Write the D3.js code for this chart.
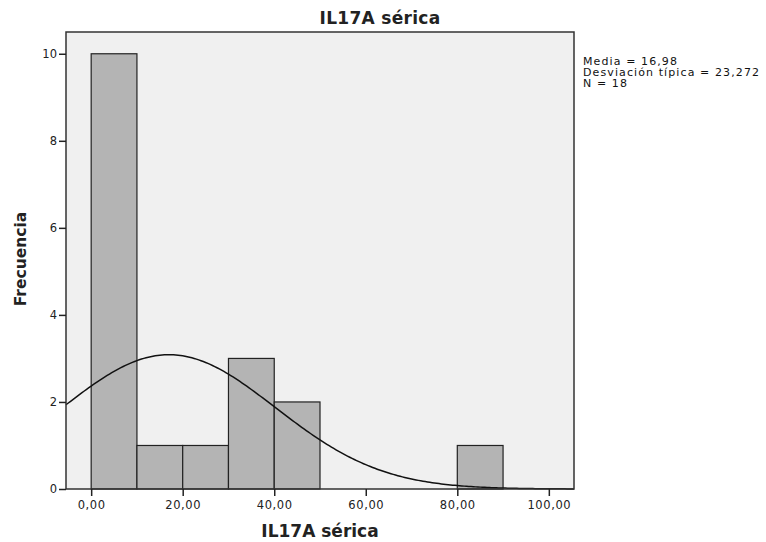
<!DOCTYPE html>
<html>
<head>
<meta charset="utf-8">
<script src="https://cdn.jsdelivr.net/npm/d3@7"></script>
<style>
body { margin:0; background:#fff; }
text { font-family: "DejaVu Sans", Verdana, sans-serif; }
</style>
</head>
<body>
<script>
// bins (lower edge) and counts
var binStart = [0, 10, 20, 30, 40, 50, 60, 70, 80];
var binCount = [10, 1, 1, 3, 2, 0, 0, 0, 1];
var binWidth = 10;
var xTicks = [0, 20, 40, 60, 80, 100];
var yTicks = [0, 2, 4, 6, 8, 10];
var media = 16.98, sd = 23.272, n = 18;
var statLines = ["Media = 16,98", "Desviación típica = 23,272", "N = 18"];

function init(){
	var w = 766, h = 542;
	var pLeft = 66, pRight = 574, pTop = 32, pBottom = 489;

	var svg = d3.select("body").append("svg").attr("width", w).attr("height", h);

	var x = d3.scaleLinear().domain([-5.5, 105.5]).range([pLeft, pRight]);
	var y = d3.scaleLinear().domain([0, 10.5]).range([pBottom, pTop]);

	svg.append("rect")
		.attr("x", pLeft).attr("y", pTop)
		.attr("width", pRight - pLeft).attr("height", pBottom - pTop)
		.attr("fill", "#f0f0f0");

	var bins = binStart.map(function(d, i){ return {x0: d, c: binCount[i]}; })
		.filter(function(d){ return d.c > 0; });

	svg.selectAll("rect.bar")
		.data(bins)
		.enter()
		.append("rect")
		.attr("class", "bar")
		.attr("x", function(d){ return x(d.x0); })
		.attr("y", function(d){ return y(d.c); })
		.attr("width", function(d){ return x(d.x0 + binWidth) - x(d.x0); })
		.attr("height", function(d){ return y(0) - y(d.c); })
		.attr("fill", "#b4b4b4")
		.attr("stroke", "#222")
		.attr("stroke-width", 1.2);

	// fitted normal curve scaled to counts
	var pts = d3.range(-5.5, 105.51, 0.5).map(function(v){
		var z = (v - media) / sd;
		return [v, n * binWidth * Math.exp(-0.5 * z * z) / (sd * Math.sqrt(2 * Math.PI))];
	});
	svg.append("path")
		.datum(pts)
		.attr("fill", "none")
		.attr("stroke", "#111")
		.attr("stroke-width", 1.5)
		.attr("d", d3.line().x(function(d){ return x(d[0]); }).y(function(d){ return y(d[1]); }));

	svg.append("rect")
		.attr("x", pLeft).attr("y", pTop)
		.attr("width", pRight - pLeft).attr("height", pBottom - pTop)
		.attr("fill", "none")
		.attr("stroke", "#333")
		.attr("stroke-width", 1.5);

	var xAxis = d3.axisBottom(x).tickValues(xTicks).tickSize(7).tickSizeOuter(0)
		.tickFormat(function(d){ return d3.format(".2f")(d).replace(".", ","); });
	var gx = svg.append("g").attr("transform", "translate(0," + pBottom + ")").call(xAxis);
	gx.select(".domain").remove();
	gx.selectAll("line").attr("stroke", "#222").attr("stroke-width", 1.5);
	gx.selectAll("text").attr("fill", "#222")
		.style("font-size", "11.5px").style("letter-spacing", "0.6px")
		.attr("dy", "0.85em");

	var yAxis = d3.axisLeft(y).tickValues(yTicks).tickSize(7).tickSizeOuter(0);
	var gy = svg.append("g").attr("transform", "translate(" + pLeft + ",0)").call(yAxis);
	gy.select(".domain").remove();
	gy.selectAll("line").attr("stroke", "#222").attr("stroke-width", 1.5);
	gy.selectAll("text").attr("fill", "#222").style("font-size", "11.5px").attr("x", -9);

	svg.append("text")
		.attr("x", 380).attr("y", 24)
		.attr("text-anchor", "middle")
		.style("font-size", "17px").style("font-weight", "bold").style("letter-spacing", "0.3px")
		.attr("fill", "#222")
		.text("IL17A sérica");

	svg.append("text")
		.attr("x", (pLeft + pRight) / 2).attr("y", 537)
		.attr("text-anchor", "middle")
		.style("font-size", "17px").style("font-weight", "bold")
		.attr("fill", "#222")
		.text("IL17A sérica");

	svg.append("text")
		.attr("transform", "translate(26,259) rotate(-90)")
		.attr("text-anchor", "middle")
		.style("font-size", "15.5px").style("font-weight", "bold")
		.attr("fill", "#222")
		.text("Frecuencia");

	svg.selectAll("text.stat")
		.data(statLines)
		.enter()
		.append("text")
		.attr("class", "stat")
		.attr("x", 583)
		.attr("y", function(d, i){ return 65 + i * 11; })
		.style("font-size", "11px").style("letter-spacing", "1.1px")
		.attr("fill", "#111")
		.text(function(d){ return d; });
}

init();
</script>
</body>
</html>
